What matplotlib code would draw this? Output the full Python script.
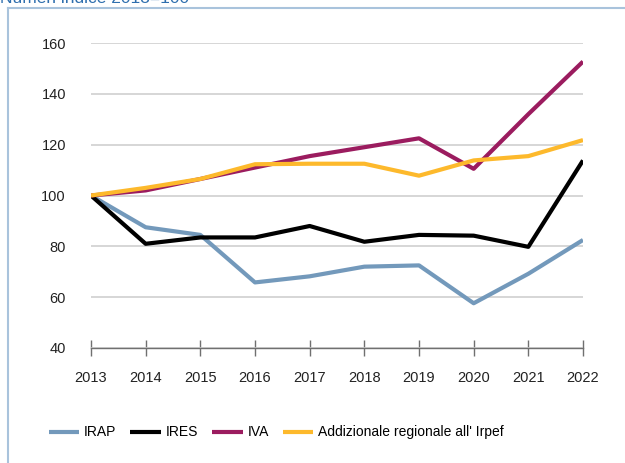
import matplotlib
matplotlib.use('Agg')
import matplotlib.pyplot as plt
from matplotlib.lines import Line2D

plt.rcParams['font.family'] = ['Liberation Sans', 'DejaVu Sans']

years = [2013, 2014, 2015, 2016, 2017, 2018, 2019, 2020, 2021, 2022]
irap = [100, 87.5, 84.5, 65.8, 68.2, 72, 72.5, 57.6, 69.2, 82.5]
ires = [100, 81, 83.5, 83.5, 88, 81.8, 84.5, 84.2, 79.8, 113.8]
iva = [100, 102, 106.5, 111, 115.5, 119, 122.5, 110.5, 132, 152.7]
addiz = [100, 103, 106.5, 112.3, 112.5, 112.5, 107.8, 113.8, 115.5, 121.8]

series = [
    ('IRAP', irap, '#7399bb'),
    ('IRES', ires, '#000000'),
    ('IVA', iva, '#9b1c5f'),
    ("Addizionale regionale all' Irpef", addiz, '#fdb92c'),
]

fig = plt.figure(figsize=(6.25, 4.63), dpi=100)
ax = fig.add_axes([0.1456, 0.2484, 0.7872, 0.6587])

for label, vals, col in series:
    ax.plot(years, vals, color=col, lw=3.0, label=label, solid_capstyle='butt', zorder=3)

ax.set_xlim(2013, 2022)
ax.set_ylim(40, 160)
ax.set_yticks(range(40, 161, 20))
ax.set_xticks(years)
ax.grid(axis='y', color='#d0d0d0', lw=1.2)
ax.set_axisbelow(True)
for s in ['top', 'right', 'left']:
    ax.spines[s].set_visible(False)
ax.spines['bottom'].set_color('#707070')
ax.spines['bottom'].set_linewidth(1.0)
ax.spines['bottom'].set_zorder(4)
ax.tick_params(axis='y', length=0, pad=18, labelsize=10.5, labelcolor='#222222')
ax.tick_params(axis='x', direction='inout', length=11, width=1.0, color='#707070',
               pad=11, labelsize=10.5, labelcolor='#222222')

fig.legend(loc='center', bbox_to_anchor=(0.442, 0.066), ncol=4, frameon=False,
           fontsize=10, handlelength=2.2, handletextpad=0.35, columnspacing=1.0)

# frame
fig.add_artist(Line2D([0.0128, 1.0], [1 - 8 / 463, 1 - 8 / 463], transform=fig.transFigure,
                      color='#a9c3dc', lw=1.5))
fig.add_artist(Line2D([0.0128, 0.0128], [0.0, 1 - 8 / 463], transform=fig.transFigure,
                      color='#a9c3dc', lw=1.5))
fig.text(0.0, 1 - 6 / 463, 'Numeri indice 2013=100', color='#2f6fae', fontsize=12.5,
         ha='left', va='bottom')

fig.savefig('out.png', dpi=100)
